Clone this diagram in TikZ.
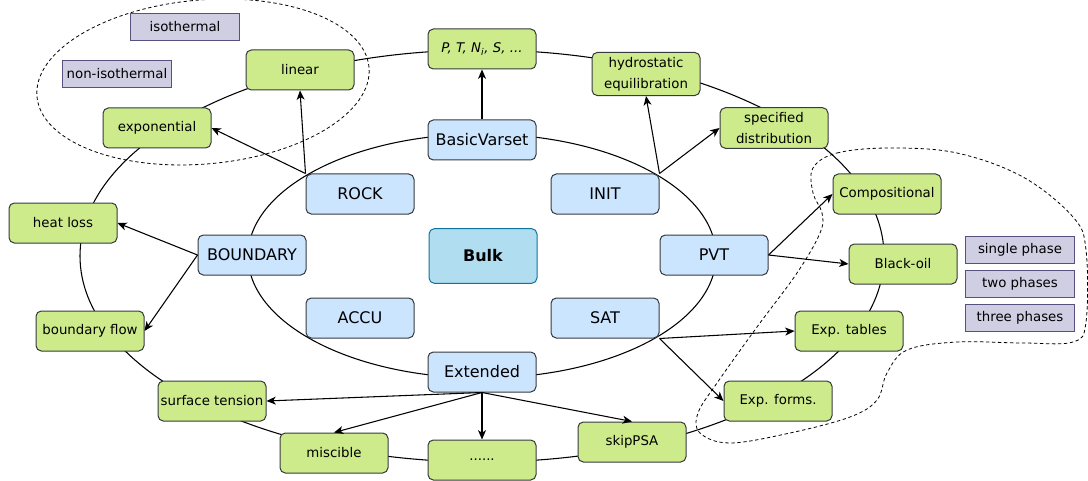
\documentclass[tikz,border=0pt]{standalone}
\usepackage{fontspec}
\setmainfont{DejaVu Sans}
\usetikzlibrary{arrows.meta}

\definecolor{moduleFill}{HTML}{CCE5FF}
\definecolor{bulkFill}{HTML}{B1DDF0}
\definecolor{bulkDraw}{HTML}{10739E}
\definecolor{optionFill}{HTML}{CDEB8B}
\definecolor{boxDraw}{HTML}{36393D}
\definecolor{variantFill}{HTML}{D0CEE2}
\definecolor{variantDraw}{HTML}{56517E}

\begin{document}
\begin{tikzpicture}[x=0.75pt,y=-0.75pt,line width=0.8pt,
    modulebox/.style={draw=boxDraw,fill=moduleFill,line width=0.75pt,rounded corners=4pt,
      minimum width=81pt,minimum height=30pt,inner xsep=1pt,font=\fontsize{12}{14}\selectfont},
    optionbox/.style={draw=boxDraw,fill=optionFill,line width=0.75pt,rounded corners=4pt,
      minimum width=81pt,minimum height=30pt,inner xsep=1pt,align=center,
      font=\fontsize{10}{16}\selectfont},
    variantbox/.style={draw=variantDraw,fill=variantFill,line width=0.75pt,
      minimum width=82pt,minimum height=20pt,inner xsep=1pt,font=\fontsize{10}{12}\selectfont},
    groupline/.style={line width=0.6pt,dash pattern=on 2.5pt off 2pt}]

  \useasboundingbox (0,0) rectangle (1088,481);

  % the two rings
  \draw (482,256) ellipse [x radius=301.5pt, y radius=154.5pt];
  \draw (482,256) ellipse [x radius=175.5pt, y radius=91.5pt];

  % dashed groups
  \draw[groupline, rotate around={5:(203,82)}] (203,82) ellipse [x radius=125pt, y radius=61.5pt];
  \draw[groupline] plot[smooth cycle, tension=.6] coordinates {
      (813,168) (837,153) (890,148) (957,153) (1023,177) (1073,217) (1086,250)
      (1086,322) (1073,342) (1023,343) (957,342) (907,350) (887,373) (877,400)
      (850,417) (790,433) (730,443) (700,433) (698,413) (717,383) (757,327)
      (797,273) (820,233) (822,213) (813,193)};

  \begin{scope}[every node/.style={modulebox}]
    \node (basic)    at (482,140) {BasicVarset};
    \node (rock)     at (360,194) {ROCK};
    \node (init)     at (605,194) {INIT};
    \node (boundary) at (252,255) {BOUNDARY};
    \node (pvt)      at (714,255) {PVT};
    \node (accu)     at (360,318) {ACCU};
    \node (sat)      at (605,318) {SAT};
    \node (extended) at (482,372) {Extended};
  \end{scope}
  \node[modulebox,fill=bulkFill,draw=bulkDraw,minimum height=41pt,
        font=\bfseries\fontsize{12}{14}\selectfont] (bulk) at (483,256) {Bulk};

  \begin{scope}[every node/.style={optionbox}]
    \node (ptn)      at (482,49)  {\textit{P, T, N\textsubscript{i}, S, ...}};
    \node (hydro)    at (646,74)  {hydrostatic\\equilibration};
    \node (specdist) at (774,128) {specified\\distribution};
    \node (linear)   at (300,70)  {linear};
    \node (expo)     at (157,128) {exponential};
    \node (heatloss) at (63,223)  {heat loss};
    \node (bflow)    at (90,331)  {boundary flow};
    \node (surften)  at (212,401) {surface tension};
    \node (miscible) at (334,453) {miscible};
    \node (dots)     at (482,460) {......};
    \node (skippsa)  at (632,442) {skipPSA};
    \node (expform)  at (778,401) {Exp. forms.};
    \node (exptab)   at (849,331) {Exp. tables};
    \node (blackoil) at (903,264) {Black-oil};
    \node (comp)     at (887,194) {Compositional};
  \end{scope}

  \begin{scope}[every node/.style={variantbox}]
    \node (iso)    at (185,27)  {isothermal};
    \node (noniso) at (117,74)  {non-isothermal};
    \node (single) at (1020,250) {single phase};
    \node (two)    at (1020,284) {two phases};
    \node (three)  at (1020,318) {three phases};
  \end{scope}

  \begin{scope}[every edge/.style={draw,-{Stealth[length=7pt,width=6pt,inset=2pt]}}]
    \path (basic)             edge (ptn);
    \path (rock.north west)   edge (expo.east);
    \path (rock.north west)   edge (linear.south);
    \path (init.north east)   edge (hydro.south);
    \path (init.north east)   edge (specdist.west);
    \path (boundary.west)     edge (heatloss.east);
    \path (boundary.west)     edge (bflow.east);
    \path (pvt.east)          edge (comp.west);
    \path (pvt.east)          edge (blackoil.west);
    \path (sat.south east)    edge (exptab.west);
    \path (sat.south east)    edge (expform.west);
    \path (extended.south)    edge (surften.east);
    \path (extended.south)    edge (miscible.north);
    \path (extended.south)    edge (dots.north);
    \path (extended.south)    edge (skippsa.north);
  \end{scope}

\end{tikzpicture}
\end{document}
